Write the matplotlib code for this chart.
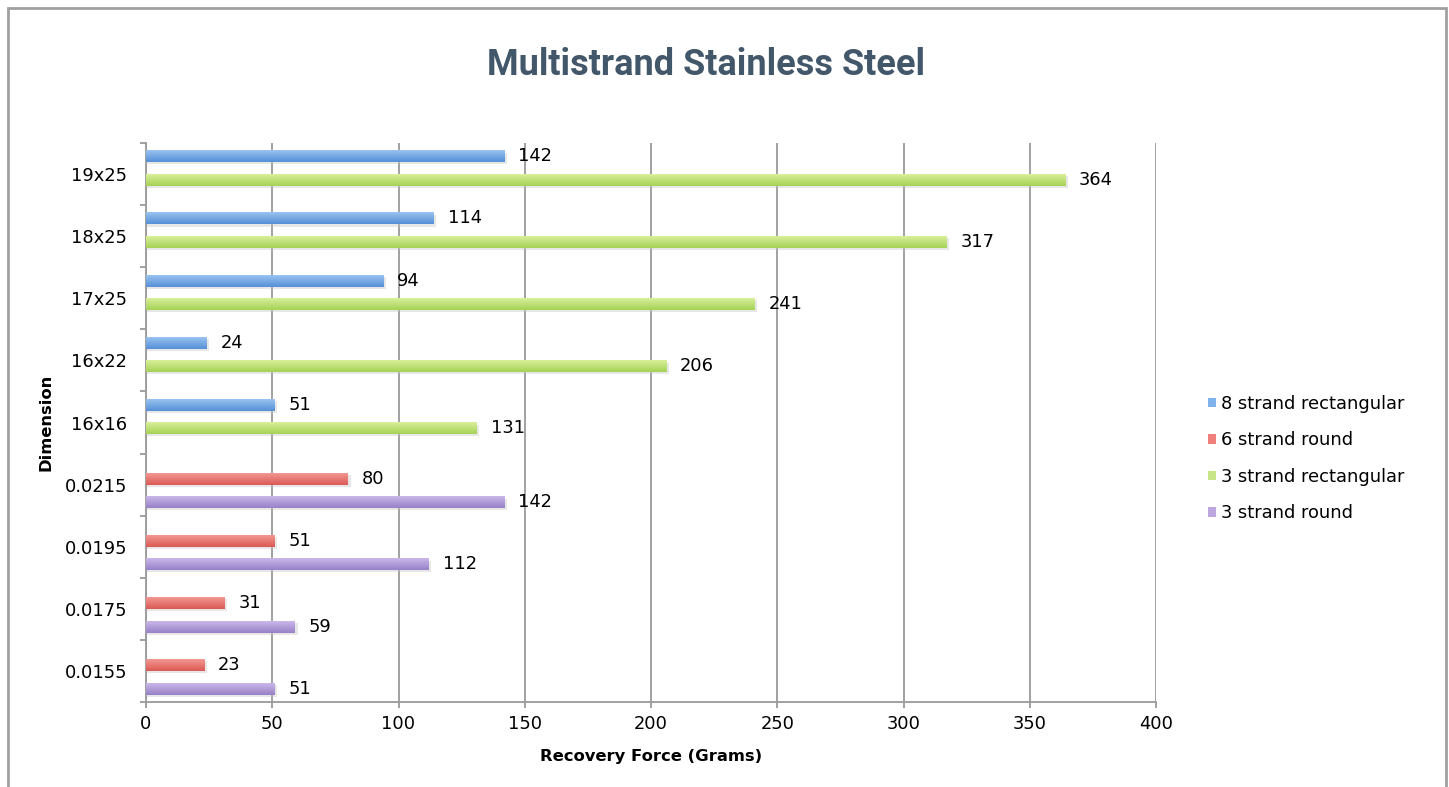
import numpy as np
import matplotlib
matplotlib.use("Agg")
import matplotlib.pyplot as plt
from matplotlib.colors import LinearSegmentedColormap
from matplotlib.patches import Patch, Rectangle

# categories listed bottom -> top as drawn on the y axis
dimensions = ["0.0155", "0.0175", "0.0195", "0.0215", "16x16", "16x22", "17x25", "18x25", "19x25"]
series_names = ["8 strand rectangular", "6 strand round", "3 strand rectangular", "3 strand round"]
nan = np.nan
strand8_rect = [nan, nan, nan, nan, 51, 24, 94, 114, 142]
strand6_round = [23, 31, 51, 80, nan, nan, nan, nan, nan]
strand3_rect = [nan, nan, nan, nan, 131, 206, 241, 317, 364]
strand3_round = [51, 59, 112, 142, nan, nan, nan, nan, nan]
x_ticks = [0, 50, 100, 150, 200, 250, 300, 350, 400]

series_values = [strand8_rect, strand6_round, strand3_rect, strand3_round]
# (top colour, bottom colour) of each bar's gradient
series_colors = [("#9fc7f3", "#5690d7"),
                 ("#f59c97", "#db5a55"),
                 ("#ddf29f", "#a6d258"),
                 ("#cebbec", "#9882c8")]
legend_colors = ["#7fb2ea", "#ee7f7a", "#c8e688", "#bba6de"]

FS = 12.9
plt.rcParams["font.family"] = ["DejaVu Sans"]

fig = plt.figure(figsize=(14.49, 7.87), dpi=100)
W, H = 1449, 787
ax = fig.add_axes([146 / W, 1 - 702 / H, (1156 - 146) / W, (702 - 143) / H])

y = np.arange(len(dimensions))
slot = 0.19
offsets = [1.5 * slot, 0.5 * slot, -0.5 * slot, -1.5 * slot]

grad = np.linspace(0, 1, 32).reshape(-1, 1)
for vals, off, (c_top, c_bot) in zip(series_values, offsets, series_colors):
    vals = np.array(vals, dtype=float)
    pos = y + off
    ok = ~np.isnan(vals)
    # soft drop shadow
    ax.barh(pos[ok] - 0.035, vals[ok] + 1.0, height=slot, color="#c4c4c4",
            alpha=0.4, zorder=2, linewidth=0)
    bars = ax.barh(pos[ok], vals[ok], height=slot * 1.02, color=c_bot, zorder=3, linewidth=0)
    cmap = LinearSegmentedColormap.from_list("g", [c_bot, c_top])
    for b in bars:
        x0, y0 = b.get_x(), b.get_y()
        im = ax.imshow(grad, cmap=cmap, origin="lower", aspect="auto", zorder=3.5,
                       extent=(x0, x0 + b.get_width(), y0, y0 + b.get_height()))
        im.set_clip_path(b)
    for v, p in zip(vals[ok], pos[ok]):
        ax.annotate(f"{v:g}", xy=(v, p), xytext=(10, 0), textcoords="offset points",
                    ha="left", va="center", fontsize=FS, zorder=5)

ax.set_xlim(0, 400)
ax.set_ylim(-0.5, len(dimensions) - 0.5)
ax.set_xticks(x_ticks)
ax.set_xticklabels([str(t) for t in x_ticks], fontsize=FS)
ax.set_yticks(np.arange(len(dimensions) + 1) - 0.5)
ax.set_yticklabels([])
ax.set_yticks(y, minor=True)
ax.set_yticklabels(dimensions, minor=True, fontsize=FS)

grid_c = "#9a9a9a"
ax.grid(axis="x", color=grid_c, linewidth=1.3, zorder=1)
ax.set_axisbelow(True)
for s in ["top", "right"]:
    ax.spines[s].set_visible(False)
for s in ["left", "bottom"]:
    ax.spines[s].set_color(grid_c)
    ax.spines[s].set_linewidth(1.3)
ax.tick_params(axis="both", which="major", direction="out", length=4.5, width=1.3, color=grid_c)
ax.tick_params(axis="x", pad=5)
ax.tick_params(axis="y", which="minor", length=0, pad=13.5)

ax.set_xlabel("Recovery Force (Grams)", fontsize=11.8, fontweight="bold", labelpad=11.5)
ax.set_ylabel("Dimension", fontsize=11.8, fontweight="bold", labelpad=8)

fig.text(706 / W, 1 - 75 / H, "Multistrand Stainless Steel", ha="center", va="baseline",
         fontsize=26, fontweight="bold", color="#43576a",
         family=["Roboto", "DejaVu Sans"])

handles = [Patch(facecolor=c, edgecolor="none") for c in legend_colors]
fig.legend(handles, series_names, loc="center left", bbox_to_anchor=(1208 / W, 1 - 458.5 / H),
           frameon=False, fontsize=FS, handlelength=0.45, handleheight=0.45,
           handletextpad=0.3, labelspacing=1.03, borderpad=0, borderaxespad=0)

# outer chart border
fig.patches.append(Rectangle((7.5 / W, -0.05), (1445.5 - 7.5) / W, 1.05 - 8.4 / H,
                             transform=fig.transFigure, fill=False, edgecolor="#a0a0a0",
                             linewidth=2.0, zorder=0))

fig.savefig("out.png", dpi=100)
